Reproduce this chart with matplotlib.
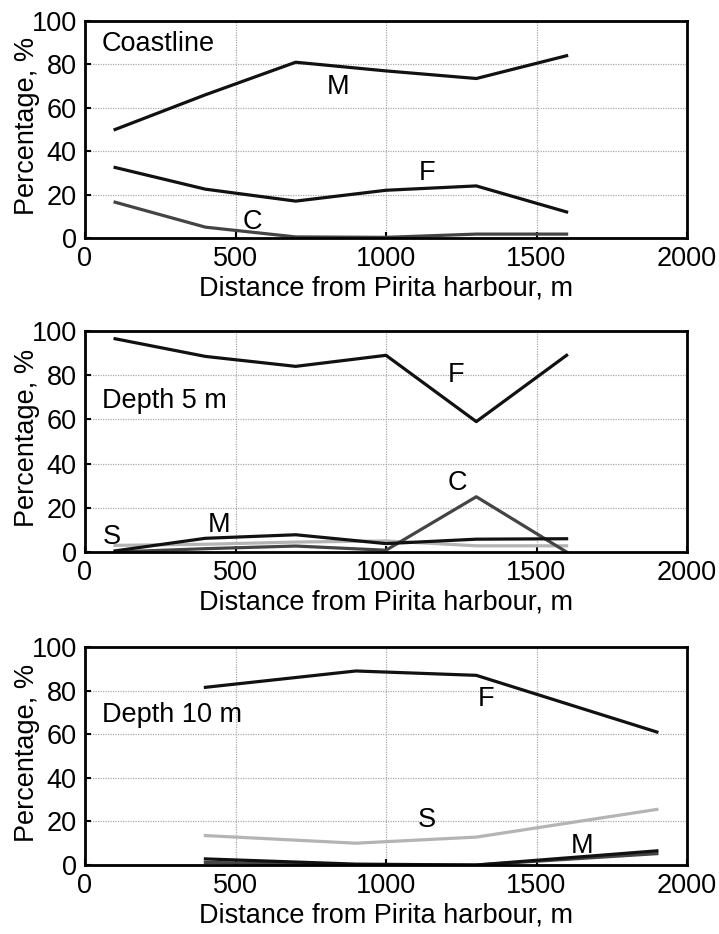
import matplotlib
matplotlib.use("Agg")
import matplotlib.pyplot as plt

plt.rcParams['font.family'] = ['Liberation Sans', 'DejaVu Sans']

# Panel 1: Coastline
x1 = [100, 400, 700, 1000, 1300, 1600]
coast_M = [50, 66, 81, 77, 73.5, 84]
coast_F = [32.5, 22.5, 17, 22, 24, 12]
coast_C = [16.5, 5, 0.5, 0.3, 1.8, 1.8]

# Panel 2: Depth 5 m
x2 = [100, 400, 700, 1000, 1300, 1600]
d5_F = [96.5, 88.5, 84, 89, 59, 89]
d5_C = [0, 1.5, 2.7, 0.8, 25, 0]
d5_M = [0.5, 6.2, 7.8, 3.8, 5.8, 6]
d5_S = [3, 3.5, 4.5, 5, 2.8, 2.8]

# Panel 3: Depth 10 m
x3 = [400, 900, 1300, 1900]
d10_F = [81.5, 89, 87, 61]
d10_S = [13.5, 10, 12.8, 25.5]
d10_C = [1.2, 0, 0, 5.2]
d10_M = [2.8, 0.4, 0, 6.5]

xticks = [0, 500, 1000, 1500, 2000]
yticks = [0, 20, 40, 60, 80, 100]
xlabel = "Distance from Pirita harbour, m"
ylabel = "Percentage, %"

BLACK = "#111111"
DARK = "#444444"
LIGHT = "#b4b4b4"
LW = 2.3
FS = 19.5

W, H = 719, 934
fig = plt.figure(figsize=(W / 100, H / 100), dpi=100)

def ax_at(top_px, bot_px, left_px=85, right_px=687):
    return fig.add_axes([left_px / W, 1 - bot_px / H, (right_px - left_px) / W, (bot_px - top_px) / H])

axes = [ax_at(21, 238), ax_at(331, 552), ax_at(647, 865)]

for ax in axes:
    ax.set_xlim(0, 2000)
    ax.set_ylim(0, 100)
    ax.set_xticks(xticks)
    ax.set_yticks(yticks)
    ax.grid(True, linestyle=(0, (1, 1)), color="#aaaaaa", linewidth=0.9)
    ax.tick_params(direction="in", length=4, width=1.5, labelsize=FS,
                   top=False, right=False)
    ax.tick_params(axis="x", pad=5.5)
    ax.tick_params(axis="y", pad=6)
    for s in ax.spines.values():
        s.set_linewidth(2)
        s.set_color("black")
    ax.set_xlabel(xlabel, fontsize=FS, labelpad=3)
    ax.set_ylabel(ylabel, fontsize=FS, va="center")
    ax.yaxis.set_label_coords(-0.097, 0.515)

# Panel 1
ax = axes[0]
ax.plot(x1, coast_C, color=DARK, lw=LW)
ax.plot(x1, coast_F, color=BLACK, lw=LW)
ax.plot(x1, coast_M, color=BLACK, lw=LW)
ax.text(55, 89.5, "Coastline", fontsize=FS, va="center", ha="left")
ax.text(840, 69.5, "M", fontsize=FS, va="center", ha="center")
ax.text(1135, 30, "F", fontsize=FS, va="center", ha="center")
ax.text(555, 7.5, "C", fontsize=FS, va="center", ha="center")

# Panel 2
ax = axes[1]
ax.plot(x2, d5_S, color=LIGHT, lw=LW)
ax.plot(x2, d5_C, color=DARK, lw=LW)
ax.plot(x2, d5_M, color=BLACK, lw=LW)
ax.plot(x2, d5_F, color=BLACK, lw=LW)
ax.text(55, 68.5, "Depth 5 m", fontsize=FS, va="center", ha="left")
ax.text(1232, 80, "F", fontsize=FS, va="center", ha="center")
ax.text(1238, 31, "C", fontsize=FS, va="center", ha="center")
ax.text(445, 12, "M", fontsize=FS, va="center", ha="center")
ax.text(89, 7, "S", fontsize=FS, va="center", ha="center")

# Panel 3
ax = axes[2]
ax.plot(x3, d10_S, color=LIGHT, lw=LW)
ax.plot(x3, d10_C, color=DARK, lw=LW)
ax.plot(x3, d10_M, color=BLACK, lw=LW)
ax.plot(x3, d10_F, color=BLACK, lw=LW)
ax.text(55, 69, "Depth 10 m", fontsize=FS, va="center", ha="left")
ax.text(1334, 76, "F", fontsize=FS, va="center", ha="center")
ax.text(1136, 20.5, "S", fontsize=FS, va="center", ha="center")
ax.text(1650, 8.5, "M", fontsize=FS, va="center", ha="center")

fig.savefig("out.png", dpi=100)
